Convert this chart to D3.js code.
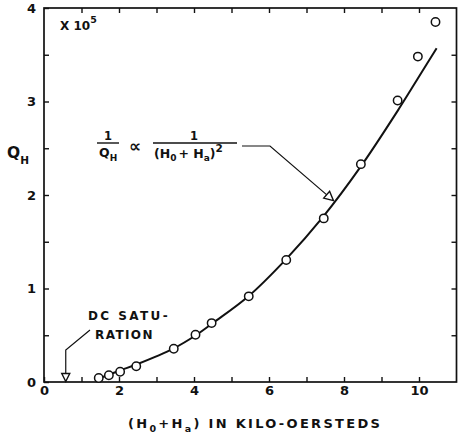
<!DOCTYPE html>
<html>
<head>
<meta charset="utf-8">
<script src="https://cdn.jsdelivr.net/npm/d3@7"></script>
<style>
  body { margin: 0; background: #fff; }
  svg text { font-family: "DejaVu Sans", sans-serif; font-weight: bold; fill: #111; }
</style>
</head>
<body>
<svg id="chart" width="458" height="437"></svg>
<script>
// measured points (H0+Ha in kOe, Q_H in units of 1e5)
const fieldKOe = [1.46, 1.73, 2.03, 2.46, 3.46, 4.04, 4.47, 5.46, 6.46, 7.46, 8.45, 9.43, 9.97, 10.44];
const qValues = [0.043, 0.072, 0.11, 0.168, 0.356, 0.505, 0.63, 0.916, 1.305, 1.75, 2.33, 3.01, 3.48, 3.85];

// drawn fit curve
const curveX = [1.57, 2.02, 2.48, 3.46, 4.05, 4.5, 5.46, 6.47, 7.43, 8.44, 9.43, 9.96, 10.47];
const curveY = [0.053, 0.123, 0.19, 0.36, 0.50, 0.63, 0.92, 1.32, 1.76, 2.30, 2.90, 3.24, 3.57];

const xLabelTicks = [0, 2, 4, 6, 8, 10];
const yLabelTicks = [0, 1, 2, 3, 4];
const dcSaturation = 0.58;

const svg = d3.select("#chart");
const x = d3.scaleLinear().domain([0, 11]).range([44, 456.5]);
const y = d3.scaleLinear().domain([0, 4]).range([382, 8]);

const ink = "#111";

// frame
svg.append("rect")
    .attr("x", x(0)).attr("y", y(4))
    .attr("width", x(11) - x(0)).attr("height", y(0) - y(4))
    .attr("fill", "none").attr("stroke", ink).attr("stroke-width", 1.7);

function styleAxis(g) {
    g.select(".domain").remove();
    g.selectAll(".tick line").attr("stroke", ink).attr("stroke-width", 1.4);
    g.selectAll(".tick text").attr("font-size", 13).attr("fill", ink)
        .style("font-family", "'DejaVu Sans', sans-serif").style("font-weight", "bold");
}

// bottom axis
svg.append("g")
    .attr("transform", `translate(0,${y(0)})`)
    .call(d3.axisBottom(x).tickValues(d3.range(0, 11, 1)).tickSize(-5).tickPadding(4)
        .tickFormat(d => xLabelTicks.includes(d) ? d : ""))
    .call(styleAxis);

// top axis
svg.append("g")
    .attr("transform", `translate(0,${y(4)})`)
    .call(d3.axisTop(x).tickValues(d3.range(1, 11, 1)).tickSize(-5).tickFormat(""))
    .call(styleAxis);

// left axis
svg.append("g")
    .attr("transform", `translate(${x(0)},0)`)
    .call(d3.axisLeft(y).tickValues(d3.range(0, 4.01, 0.5)).tickSize(-5).tickPadding(8)
        .tickFormat(d => yLabelTicks.includes(d) ? d : ""))
    .call(styleAxis);

// right axis
svg.append("g")
    .attr("transform", `translate(${x(11)},0)`)
    .call(d3.axisRight(y).tickValues(d3.range(0.5, 4, 0.5)).tickSize(-5).tickFormat(""))
    .call(styleAxis);

// fit curve
const pts = curveX.map((d, i) => [d, curveY[i]]);
svg.append("path")
    .datum(pts)
    .attr("fill", "none")
    .attr("stroke", ink)
    .attr("stroke-width", 2)
    .attr("d", d3.line().x(d => x(d[0])).y(d => y(d[1])).curve(d3.curveCatmullRom));

// data circles
svg.selectAll(".pt")
    .data(fieldKOe.map((d, i) => [d, qValues[i]]))
    .join("circle")
    .attr("class", "pt")
    .attr("cx", d => x(d[0]))
    .attr("cy", d => y(d[1]))
    .attr("r", 4.2)
    .attr("fill", "#fff")
    .attr("stroke", ink)
    .attr("stroke-width", 1.5);

// open triangle arrowhead
function arrowHead(tipX, tipY, angle, len, half) {
    const bx = tipX - len * Math.cos(angle), by = tipY - len * Math.sin(angle);
    const px = -Math.sin(angle) * half, py = Math.cos(angle) * half;
    svg.append("path")
        .attr("d", `M${tipX},${tipY}L${bx + px},${by + py}L${bx - px},${by - py}Z`)
        .attr("fill", "#fff").attr("stroke", ink).attr("stroke-width", 1.4);
}

// formula leader
const tip = [x(7.72), y(1.94)];
const elbow = [270, 146];
svg.append("path")
    .attr("d", `M242,146L${elbow[0]},${elbow[1]}L${tip[0]},${tip[1]}`)
    .attr("fill", "none").attr("stroke", ink).attr("stroke-width", 1.2);
arrowHead(tip[0], tip[1], Math.atan2(tip[1] - elbow[1], tip[0] - elbow[0]), 9, 4.5);

// DC saturation leader
const dcX = x(dcSaturation);
svg.append("path")
    .attr("d", `M90,330L${dcX},350L${dcX},374`)
    .attr("fill", "none").attr("stroke", ink).attr("stroke-width", 1.2);
arrowHead(dcX, y(0) - 0.5, Math.PI / 2, 8, 4);

svg.append("text").attr("x", 88).attr("y", 320).attr("font-size", 12)
    .attr("letter-spacing", 2.4).text("DC SATU-");
svg.append("text").attr("x", 95).attr("y", 339).attr("font-size", 12)
    .attr("letter-spacing", 1.4).text("RATION");

// x 10^5
const mult = svg.append("text").attr("x", 60).attr("y", 30).attr("font-size", 12);
mult.append("tspan").text("X 10");
mult.append("tspan").attr("dy", -7).attr("font-size", 9.5).text("5");

// Q_H label
const ql = svg.append("text").attr("x", 7).attr("y", 158).attr("font-size", 15.5);
ql.append("tspan").text("Q");
ql.append("tspan").attr("dy", 6).attr("font-size", 10.5).text("H");

// formula
svg.append("text").attr("x", 108).attr("y", 140).attr("font-size", 11.5)
    .attr("text-anchor", "middle").text("1");
svg.append("line").attr("x1", 97).attr("x2", 119).attr("y1", 143).attr("y2", 143)
    .attr("stroke", ink).attr("stroke-width", 1.4);
const fq = svg.append("text").attr("x", 99).attr("y", 157).attr("font-size", 12.5);
fq.append("tspan").text("Q");
fq.append("tspan").attr("dy", 4).attr("font-size", 9).text("H");

svg.append("text").attr("x", 135).attr("y", 152).attr("font-size", 17)
    .attr("text-anchor", "middle").text("\u221D");

svg.append("text").attr("x", 194).attr("y", 140).attr("font-size", 11.5)
    .attr("text-anchor", "middle").text("1");
svg.append("line").attr("x1", 153).attr("x2", 237).attr("y1", 143).attr("y2", 143)
    .attr("stroke", ink).attr("stroke-width", 1.4);
const fd = svg.append("text").attr("x", 154).attr("y", 158).attr("font-size", 12.5);
fd.append("tspan").text("(H");
fd.append("tspan").attr("dy", 3).attr("font-size", 9).text("0");
fd.append("tspan").attr("dy", -3).attr("dx", 2).text("+ H");
fd.append("tspan").attr("dy", 3).attr("font-size", 9).text("a");
fd.append("tspan").attr("dy", -3).text(")");
fd.append("tspan").attr("dy", -6).attr("font-size", 10.5).text("2");

// x axis title
const xt = svg.append("text").attr("x", 128).attr("y", 428).attr("font-size", 13)
    .attr("letter-spacing", 2.3);
xt.append("tspan").text("(H");
xt.append("tspan").attr("dy", 4).attr("font-size", 9.5).text("0");
xt.append("tspan").attr("dy", -4).text("+H");
xt.append("tspan").attr("dy", 4).attr("font-size", 9.5).text("a");
xt.append("tspan").attr("dy", -4).text(") IN KILO-OERSTEDS");
</script>
</body>
</html>
